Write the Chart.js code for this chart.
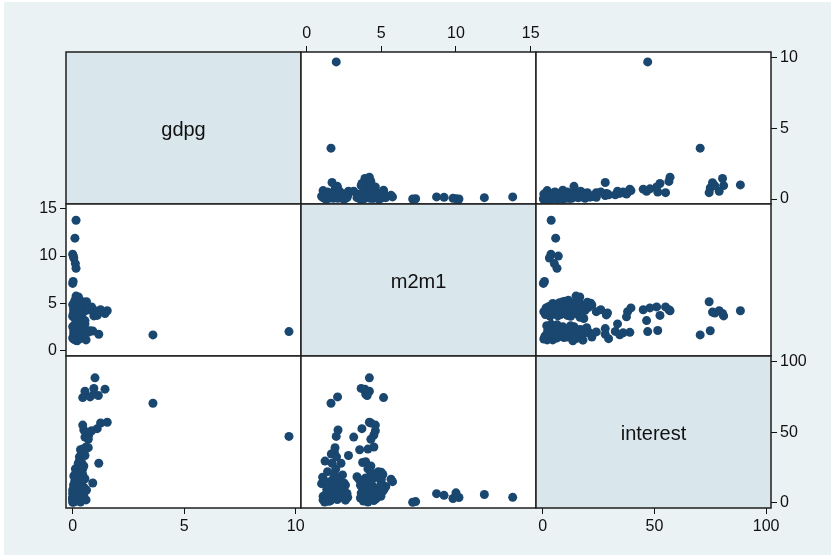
<!DOCTYPE html>
<html>
<head>
<meta charset="utf-8">
<script src="https://cdn.jsdelivr.net/npm/chart.js@4"></script>
<style>
  body { margin: 0; background: #fff; }
  #frame { position: absolute; left: 4px; top: 2px; width: 827px; height: 553px; background: #eaf2f3; }
  canvas { position: absolute; }
</style>
</head>
<body>
<div id="frame"></div>
<script>
// variable names (diagonal labels)
var varNames = ['gdpg', 'm2m1', 'interest'];

var gdpg = [0.15, 0.10, 0.00, 0.03, 0.05, 0.12, 0.15, 0.00, 0.02,
    9.70, 3.60,
    1.00, 1.45, 0.95, 0.55, 0.95, 0.78, 0.45, 1.15,
    1.55, 1.25, 1.10, 0.85, 0.50, 0.45, 0.70, 0.55, 0.72,
    0.60, 0.45, 0.35, 0.70, 0.50, 0.40, 0.55, 0.30,
    1.17, 0.30, 0.25, 0.40, 0.35, 0.20, 0.15, 0.30, 0.45, 0.20, 0.15, 0.50, 0.90,
    0.00, 0.05, 0.10, 0.20, 0.15, 0.30, 0.25, 0.35, 0.10, 0.20, 0.05, 0.30, 0.40, 0.15, 0.25,
    0.45, 0.60, 0.10, 0.35, 0.20, 0.05, 0.50, 0.00, 0.30, 0.15, 0.40, 0.25, 0.10, 0.55, 0.20,
    0.00, 0.10, 0.05, 0.15, 0.20, 0.30, 0.10, 0.25, 0.35, 0.05, 0.40, 0.20, 0.30, 0.15, 0.45,
    0.25, 0.26, 0.10, 0.50, 0.62, 0.30, 0.00, 0.20, 0.35, 0.10, 0.40, 0.15, 0.05, 0.30, 0.45,
    0.05, 0.12, 0.22, 0.08, 0.18, 0.28, 0.02, 0.12, 0.22, 0.08, 0.32, 0.18, 0.38, 0.06, 0.25,
    0.35, 0.12, 0.28, 0.05, 0.40];
var m2m1 = [13.8, 11.9, 10.2, 10.0, 9.8, 9.2, 8.7, 7.1, 7.3,
    1.98, 1.63,
    4.2, 3.9, 3.65, 4.2, 3.95, 2.07, 5.15, 4.05,
    4.2, 4.3, 3.7, 4.6, 2.1, 4.6, 4.3, 3.15, 4.5,
    4.5, 4.1, 3.55, 1.9, 1.85, 1.65, 2.8, 2.0,
    1.7, 1.23, 2.3, 3.75, 3.95, 1.4, 1.85, 2.4, 4.1, 4.8, 5.0, 4.3, 2.05,
    1.3, 1.5, 1.1, 1.0, 1.07, 2.3, 2.75, 1.9, 2.0, 2.2, 1.8, 2.5, 1.6, 2.4, 1.95,
    2.1, 1.1, 1.7, 2.6, 1.45, 2.1, 1.4, 2.5, 1.25, 2.0, 2.35, 1.6, 2.7, 2.2, 1.85,
    3.6, 4.0, 4.5, 4.97, 4.2, 3.8, 4.7, 5.2, 4.4, 3.9, 4.8, 3.7, 5.0, 4.3, 4.6,
    5.0, 5.65, 3.37, 4.1, 5.15, 4.5, 4.85, 3.6, 4.1, 5.3, 3.9, 5.75, 4.25, 3.5, 5.1,
    1.2, 1.6, 2.05, 2.3, 1.35, 1.75, 3.8, 4.15, 4.65, 5.05, 4.25, 3.65, 4.95, 4.4, 3.95,
    2.15, 1.95, 4.55, 2.6, 1.3];
var interest = [3.8, 5.8, 3.7, 7.0, 3.0, 5.2, 6.4, 0.3, 0.8,
    47.0, 70.5,
    88.5, 80.5, 81.0, 79.0, 77.0, 75.0, 74.5, 76.0,
    57.0, 56.5, 52.5, 51.0, 51.5, 55.0, 45.0, 46.5, 48.0,
    39.5, 38.0, 37.5, 39.0, 36.0, 34.5, 33.5, 32.5,
    28.0, 29.5, 28.0, 28.5, 29.0, 22.0, 21.0, 19.7, 24.0, 22.0, 21.5, 26.0, 14.0,
    2.5, 1.0, 4.5, 13.5, 18.0, 3.8, 3.8, 6.0, 8.0, 10.0, 12.0, 14.0, 9.0, 7.0, 11.0,
    5.0, 2.0, 16.0, 12.5, 7.5, 3.0, 11.0, 9.0, 15.0, 5.5, 8.5, 1.5, 6.5, 17.0, 19.0,
    3.3, 2.0, 4.7, 4.5, 6.0, 8.0, 9.0, 10.0, 12.0, 13.0, 7.0, 11.0, 14.0, 15.5, 17.8,
    16.6, 16.6, 18.4, 5.5, 9.0, 1.5, 6.5, 12.5, 0.5, 11.5, 15.0, 14.9, 19.0, 16.7, 20.0,
    0.5, 3.5, 2.2, 12.0, 9.5, 4.2, 1.2, 3.8, 2.8, 7.5, 9.8, 6.8, 12.2, 10.5, 17.5,
    16.0, 24.0, 20.5, 1.8, 6.2];

// tick labels for each variable
var gdpgTicks = [0, 5, 10];
var m2m1Ticks = [0, 5, 10, 15];
var interestTicks = [0, 50, 100];

var vars = [gdpg, m2m1, interest];
var varTicks = [gdpgTicks, m2m1Ticks, interestTicks];
// axis ranges used horizontally / vertically (Stata pads the data range a bit)
var xRange = [[-0.30, 10.24], [-0.38, 15.36], [-3.0, 102.2]];
var yRange = [[-0.35, 10.40], [-0.61, 15.53], [-3.76, 104.0]];

var M = 40;                 // room round every cell for axes
var cellLeft = 66, cellTop = 52, cellW = 235, cellH = 152;
var fontFamily = '"Liberation Sans", Arial, Helvetica, sans-serif';

// which axis labels show where: [row, col] -> sides
var axisSides = {
    '0,1': { top: true },
    '0,2': { right: true },
    '1,0': { left: true },
    '2,0': { bottom: true },
    '2,2': { bottom: true, right: true }
};

// fills the cell, writes the diagonal label, and draws the cell frame
var cellPlugin = {
    id: 'cell',
    beforeDraw: function(chart, args, opts) {
        var a = chart.chartArea, ctx = chart.ctx;
        ctx.save();
        ctx.fillStyle = opts.fill;
        ctx.fillRect(a.left, a.top, a.right - a.left, a.bottom - a.top);
        ctx.restore();
    },
    afterDraw: function(chart, args, opts) {
        var a = chart.chartArea, ctx = chart.ctx;
        ctx.save();
        if (opts.label) {
            ctx.font = '20px ' + fontFamily;
            ctx.fillStyle = '#111';
            ctx.textAlign = 'center';
            ctx.textBaseline = 'middle';
            ctx.fillText(opts.label, (a.left + a.right) / 2, (a.top + a.bottom) / 2 + 2);
        }
        ctx.strokeStyle = '#1e1e1e';
        ctx.lineWidth = 1.5;
        ctx.strokeRect(a.left, a.top, a.right - a.left, a.bottom - a.top);
        ctx.restore();
    }
};

function axisCfg(range, ticks, pos, show) {
    return {
        type: 'linear',
        position: pos,
        min: range[0],
        max: range[1],
        display: show,
        afterBuildTicks: function(s) {
            s.ticks = ticks.map(function(v) { return { value: v }; });
        },
        afterFit: function(s) {
            // hidden axes keep zero size, shown ones get exactly M
            var size = show ? M : 0;
            if (s.isHorizontal()) s.height = size; else s.width = size;
        },
        grid: { drawOnChartArea: false, drawTicks: true, tickLength: 6, color: '#111', lineWidth: 1 },
        border: { display: false },
        ticks: {
            font: { family: fontFamily, size: 16 },
            color: '#111',
            padding: 3,
            maxRotation: 0,
            autoSkip: false
        }
    };
}

function makePanel(row, col) {
    var canvas = document.createElement('canvas');
    canvas.width = cellW + 2 * M;
    canvas.height = cellH + 2 * M;
    canvas.style.left = (cellLeft + col * cellW - M) + 'px';
    canvas.style.top = (cellTop + row * cellH - M) + 'px';
    canvas.style.width = canvas.width + 'px';
    canvas.style.height = canvas.height + 'px';
    document.body.appendChild(canvas);

    var sides = axisSides[row + ',' + col] || {};
    var diag = row === col;
    var points = diag ? [] : vars[col].map(function(v, i) {
        return { x: v, y: vars[row][i] };
    });

    new Chart(canvas.getContext('2d'), {
        type: 'scatter',
        data: {
            datasets: [{
                data: points,
                backgroundColor: '#1a476f',
                borderWidth: 0,
                pointRadius: 4.5,
                pointHoverRadius: 4.5,
                clip: false
            }]
        },
        options: {
            responsive: false,
            animation: false,
            events: [],
            layout: {
                padding: {
                    left: sides.left ? 0 : M,
                    right: sides.right ? 0 : M,
                    top: sides.top ? 0 : M,
                    bottom: sides.bottom ? 0 : M
                }
            },
            scales: {
                x: axisCfg(xRange[col], varTicks[col], sides.top ? 'top' : 'bottom', !!(sides.top || sides.bottom)),
                y: axisCfg(yRange[row], varTicks[row], sides.right ? 'right' : 'left', !!(sides.left || sides.right))
            },
            plugins: {
                legend: { display: false },
                tooltip: { enabled: false },
                cell: {
                    fill: diag ? '#d9e6ec' : '#ffffff',
                    label: diag ? varNames[row] : null
                }
            }
        },
        plugins: [cellPlugin]
    });
}

for (var r = 0; r < 3; r++) {
    for (var c = 0; c < 3; c++) {
        makePanel(r, c);
    }
}
</script>
</body>
</html>
